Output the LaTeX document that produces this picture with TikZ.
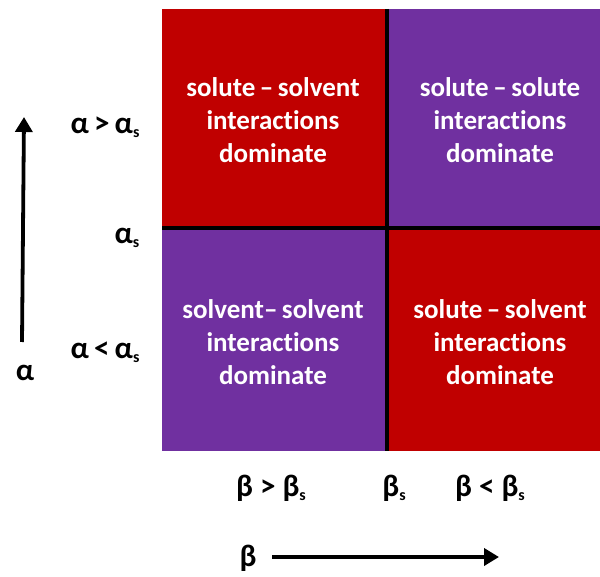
\documentclass[tikz,border=0pt]{standalone}
\usepackage{fontspec}
\setmainfont{Carlito}[Ligatures=NoCommon]
\usetikzlibrary{arrows.meta}
\definecolor{qred}{HTML}{C00000}
\definecolor{qpurple}{HTML}{7030A0}
\newcommand{\lowsub}[1]{\raisebox{-0.3ex}{\fontsize{16}{16}\selectfont #1}}
\tikzset{
  qtext/.style={text=white, font=\bfseries\fontsize{27}{33}\selectfont, align=center},
  axlabel/.style={font=\bfseries\fontsize{31}{34}\selectfont, text=black, inner sep=0pt},
  divider/.style={line width=4pt, black},
  axarrow/.style={line width=3.8pt, -{Triangle[length=15pt,width=17pt]}}
}
\begin{document}
\begin{tikzpicture}[x=1pt,y=-1pt]
\useasboundingbox (0,0) rectangle (600,577);
\fill[qred]    (162,9)   rectangle (387,228);
\fill[qpurple] (387,9)   rectangle (600,228);
\fill[qpurple] (162,228) rectangle (387,451);
\fill[qred]    (387,228) rectangle (600,451);
\coordinate (vt) at (387,9);
\coordinate (vb) at (387,451);
\coordinate (hl) at (162,228);
\coordinate (hr) at (600,228);
\draw[divider] (vt) -- (vb);
\draw[divider] (hl) -- (hr);
\node[qtext] (tl) at (273,120) {solute\,–\,solvent\\interactions\\dominate};
\node[qtext] (tr) at (500,120) {solute\,–\,solute\\interactions\\dominate};
\node[qtext] (bl) at (273,342) {solvent–\,solvent\\interactions\\dominate};
\node[qtext] (br) at (500,342) {solute\,–\,solvent\\interactions\\dominate};
\node[axlabel] (agt) at (105,127) {α\,>\,α\lowsub{s}};
\node[axlabel] (as)  at (127,238) {α\lowsub{s}};
\node[axlabel] (alt) at (105,352) {α\,<\,α\lowsub{s}};
\node[axlabel] (alpha) at (25,373) {α};
\coordinate (a0) at (22,342);
\coordinate (a1) at (24,117);
\draw[axarrow] (a0) -- (a1);
\node[axlabel] (bgt) at (271,488) {β > β\lowsub{s}};
\node[axlabel] (bs)  at (394,488) {β\lowsub{s}};
\node[axlabel] (blt) at (490,488) {β < β\lowsub{s}};
\node[axlabel] (beta) at (248,558) {β};
\coordinate (b0) at (272,557);
\coordinate (b1) at (499,557);
\draw[axarrow] (b0) -- (b1);
\end{tikzpicture}
\end{document}
